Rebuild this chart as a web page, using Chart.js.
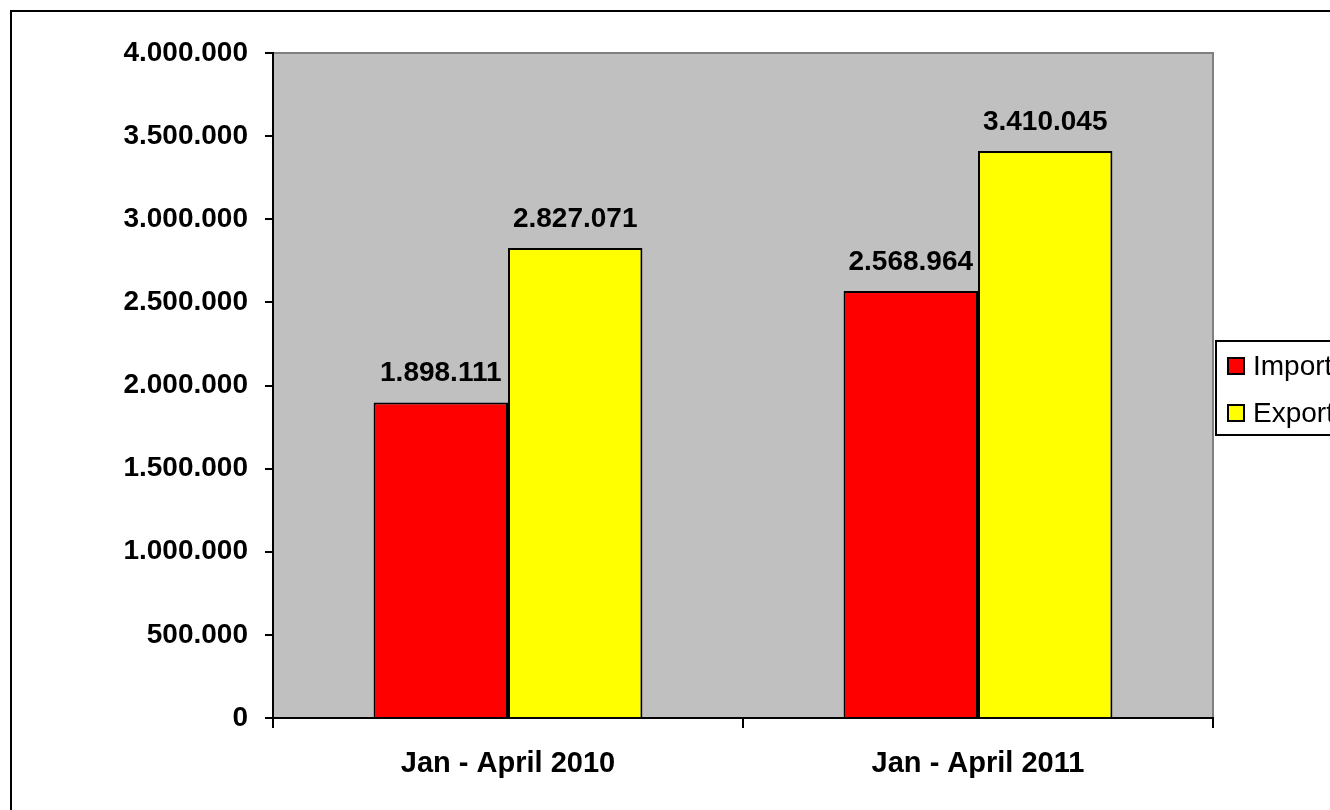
<!DOCTYPE html>
<html>
<head>
<meta charset="utf-8">
<script src="https://cdn.jsdelivr.net/npm/chart.js@4.4.1/dist/chart.umd.min.js"></script>
<style>
  html, body { margin: 0; padding: 0; background: #fff; overflow: hidden; }
  #wrap { width: 1330px; height: 810px; position: relative; }
</style>
</head>
<body>
<div id="wrap"><canvas id="c" width="1330" height="810"></canvas></div>
<script>
const categories = ['Jan - April 2010', 'Jan - April 2011'];
const seriesNames = ['Import', 'Export'];
const importValues = [1898111, 2568964];
const exportValues = [2827071, 3410045];
const yTicks = [0, 500000, 1000000, 1500000, 2000000, 2500000, 3000000, 3500000, 4000000];

const FONT = '"Liberation Sans", Arial, sans-serif';
function fmt(v) { return String(Math.round(v)).replace(/\B(?=(\d{3})+(?!\d))/g, '.'); }

const framePlugin = {
  id: 'frame',
  beforeDraw(chart) {
    const ctx = chart.ctx, a = chart.chartArea;
    ctx.save();
    ctx.fillStyle = '#fff';
    ctx.fillRect(0, 0, chart.width, chart.height);
    ctx.strokeStyle = '#000';
    ctx.lineWidth = 2;
    ctx.strokeRect(11, 11, chart.width + 20, chart.height + 20);
    ctx.fillStyle = '#C0C0C0';
    ctx.fillRect(a.left, a.top, a.right - a.left, a.bottom - a.top);
    ctx.strokeStyle = '#808080';
    ctx.lineWidth = 2;
    ctx.beginPath();
    ctx.moveTo(a.left, a.top);
    ctx.lineTo(a.right, a.top);
    ctx.lineTo(a.right, a.bottom);
    ctx.stroke();
    ctx.restore();
  },
  afterDatasetsDraw(chart) {
    const ctx = chart.ctx;
    ctx.save();
    ctx.font = 'bold 28px ' + FONT;
    ctx.fillStyle = '#000';
    ctx.textAlign = 'center';
    ctx.textBaseline = 'alphabetic';
    chart.data.datasets.forEach((ds, di) => {
      chart.getDatasetMeta(di).data.forEach((bar, i) => {
        ctx.fillText(fmt(ds.data[i]), bar.x, bar.y - 21);
      });
    });
    const lx = 1216, ly = 341, lw = 200, lh = 94;
    ctx.lineWidth = 2;
    ctx.strokeStyle = '#000';
    ctx.fillStyle = '#fff';
    ctx.fillRect(lx, ly, lw, lh);
    ctx.strokeRect(lx, ly, lw, lh);
    ctx.font = '28px ' + FONT;
    ctx.textAlign = 'left';
    ctx.textBaseline = 'middle';
    const rows = [366, 413];
    chart.data.datasets.forEach((ds, di) => {
      const y = rows[di];
      ctx.fillStyle = ds.backgroundColor;
      ctx.fillRect(1228, y - 8, 16, 16);
      ctx.lineWidth = 2;
      ctx.strokeStyle = '#000';
      ctx.strokeRect(1228, y - 8, 16, 16);
      ctx.fillStyle = '#000';
      ctx.fillText(ds.label, 1253, y + 1);
    });
    ctx.restore();
  }
};

new Chart(document.getElementById('c'), {
  type: 'bar',
  data: {
    labels: categories,
    datasets: [
      { label: seriesNames[0], data: importValues, backgroundColor: '#FF0000', borderColor: '#000', borderWidth: 2 },
      { label: seriesNames[1], data: exportValues, backgroundColor: '#FFFF00', borderColor: '#000', borderWidth: 2 }
    ]
  },
  options: {
    responsive: false,
    animation: false,
    devicePixelRatio: 1,
    layout: { padding: { top: 53, right: 117, bottom: 0, left: 0 } },
    datasets: { bar: { categoryPercentage: 0.572, barPercentage: 1.0 } },
    plugins: { legend: { display: false }, tooltip: { enabled: false } },
    scales: {
      x: {
        afterFit(s) { s.height = 92; },
        grid: { display: true, drawOnChartArea: false, offset: true, tickLength: 10, color: '#000', lineWidth: 2 },
        border: { display: true, color: '#000', width: 2 },
        ticks: { color: '#000', font: { family: FONT, size: 29, weight: 'bold' }, padding: 19, maxRotation: 0 }
      },
      y: {
        min: 0, max: 4000000,
        afterFit(s) { s.width = 273; },
        afterBuildTicks(s) { s.ticks = yTicks.map(v => ({ value: v })); },
        grid: { display: true, drawOnChartArea: false, tickLength: 8, color: '#000', lineWidth: 2 },
        border: { display: true, color: '#000', width: 2 },
        ticks: { color: '#000', font: { family: FONT, size: 28, weight: 'bold' }, padding: 17, callback: v => fmt(v) }
      }
    }
  },
  plugins: [framePlugin]
});
</script>
</body>
</html>
